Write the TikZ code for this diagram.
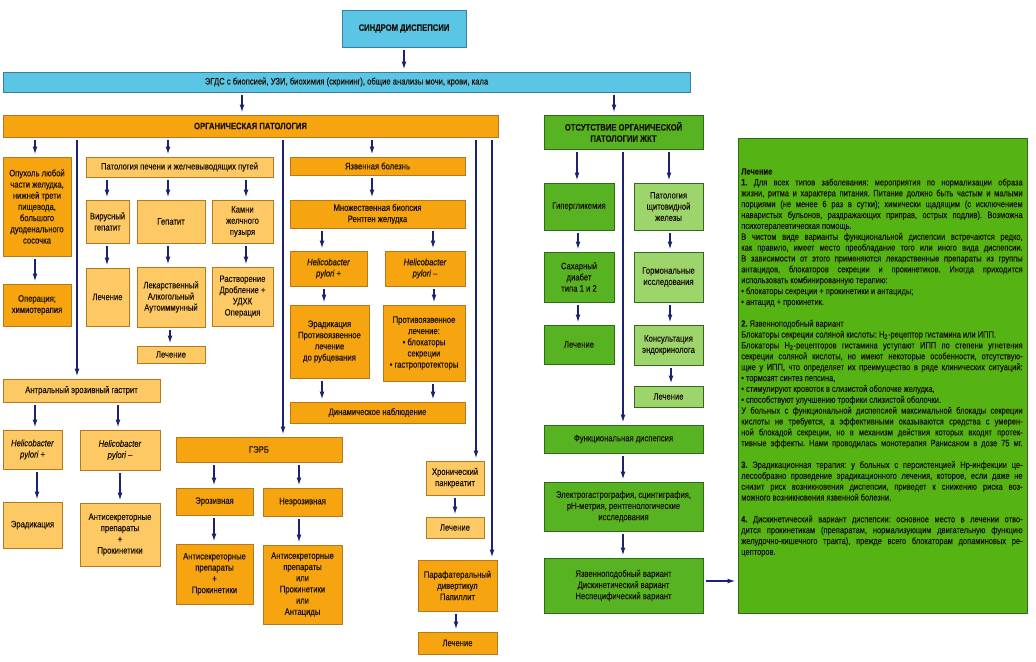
\documentclass[tikz,border=0pt]{standalone}
\usepackage{fontspec}
\setmainfont{Liberation Sans}[FakeStretch=0.82, FakeBold=0.35]
\usetikzlibrary{arrows.meta,calc}
\definecolor{blueF}{HTML}{5BC5E5}
\definecolor{blueD}{HTML}{3D7D9E}
\definecolor{orgD}{HTML}{F6A410}
\definecolor{orgL}{HTML}{FDC964}
\definecolor{orgB}{HTML}{B5781E}
\definecolor{grnD}{HTML}{58B322}
\definecolor{grnL}{HTML}{9ED46C}
\definecolor{grnB}{HTML}{2F6B1C}
\definecolor{grnT}{HTML}{55B414}
\definecolor{navy}{HTML}{1B2270}
\definecolor{ink}{HTML}{1A1208}
\tikzset{
  bxs/.style={draw, line width=0.5pt, align=center, inner sep=1pt, font=\fontsize{7}{8.4}\selectfont, text=ink},
  od/.style={bxs, fill=orgD, draw=orgB},
  ol/.style={bxs, fill=orgL, draw=orgB},
  bl/.style={bxs, fill=blueF, draw=blueD},
  gd/.style={bxs, fill=grnD, draw=grnB},
  gl/.style={bxs, fill=grnL, draw=grnB},
  gt/.style={bxs, fill=grnT, draw=grnB},
  arr/.style={draw=navy, line width=1.1pt, -{Latex[length=6pt,width=3.6pt]}, shorten <=2.2pt, shorten >=1.5pt}
}
\newcommand\bx[7]{\node[#6, minimum width={(#4-#2)*0.75pt}, minimum height={(#5-#3)*0.75pt}] (#1) at ({(#2+#4)/2},{(#3+#5)/2}) {#7};}
\newcommand\va[3]{\coordinate (vx) at (#3,0); \draw[arr] (#1.south -| vx) -- (#2.north -| vx);}
\newcommand\jl[1]{\makebox[\linewidth][s]{#1}\par}
\newcommand\lastl[1]{\makebox[\linewidth][l]{#1}\par}
\begin{document}
\begin{tikzpicture}[x=0.75pt, y=-0.75pt]
\fill[white] (0,0) rectangle (1036,661);
\useasboundingbox (0,0) rectangle (1036,661);
% top
\bx{title}{342}{10}{466}{47}{bl}{\textbf{СИНДРОМ ДИСПЕПСИИ}}
\bx{egds}{3}{72}{690}{92}{bl}{ЭГДС с биопсией, УЗИ, биохимия (скрининг), общие анализы мочи, крови, кала}
\bx{org}{3}{115}{498}{137}{od}{\textbf{ОРГАНИЧЕСКАЯ ПАТОЛОГИЯ}}
\bx{otsut}{544}{115}{703}{149}{gd}{\textbf{ОТСУТСТВИЕ ОРГАНИЧЕСКОЙ}\\\textbf{ПАТОЛОГИИ ЖКТ}}
% left column
\bx{opuh}{3}{157}{71}{256}{od}{Опухоль любой\\части желудка,\\нижней трети\\пищевода,\\большого\\дуоденального\\сосочка}
\bx{oper}{3}{284}{71}{326}{od}{Операция;\\химиотерапия}
% liver
\bx{pech}{86}{157}{273}{177}{ol}{Патология печени и желчевыводящих путей}
\bx{vir}{86}{200}{129}{243}{ol}{Вирусный\\гепатит}
\bx{gep}{137}{200}{205}{243}{ol}{Гепатит}
\bx{kamni}{212}{200}{273}{243}{ol}{Камни\\желчного\\пузыря}
\bx{lech1}{86}{268}{129}{326}{ol}{Лечение}
\bx{lek}{137}{267}{205}{327}{ol}{Лекарственный\\Алкогольный\\Аутоиммунный}
\bx{rastv}{212}{267}{273}{326}{ol}{Растворение\\Дробление +\\УДХК\\Операция}
\bx{lech2}{137}{346}{205}{363}{ol}{Лечение}
% antral gastritis
\bx{antr}{3}{379}{160}{402}{ol}{Антральный эрозивный гастрит}
\bx{hpl1}{3}{430}{62}{469}{ol}{\textit{Helicobacter}\\\textit{pylori +}}
\bx{hml1}{80}{430}{160}{470}{ol}{\textit{Helicobacter}\\\textit{pylori –}}
\bx{erad1}{3}{502}{62}{548}{ol}{Эрадикация}
\bx{anti1}{80}{503}{160}{566}{ol}{Антисекреторные\\препараты\\+\\Прокинетики}
% ulcer
\bx{yazvb}{290}{157}{465}{175}{od}{Язвенная болезнь}
\bx{mnozh}{290}{200}{465}{228}{od}{Множественная биопсия\\Рентген желудка}
\bx{hpp}{290}{251}{367}{286}{od}{\textit{Helicobacter}\\\textit{pylori +}}
\bx{hpm}{385}{251}{465}{286}{od}{\textit{Helicobacter}\\\textit{pylori –}}
\bx{erad2}{290}{305}{369}{378}{od}{Эрадикация\\Противоязвенное\\лечение\\до рубцевания}
\bx{protiv}{383}{305}{465}{381}{od}{Противоязвенное\\лечение:\\• блокаторы\\секреции\\• гастропротекторы}
\bx{dinam}{290}{402}{465}{423}{od}{Динамическое наблюдение}
% GERD
\bx{gerb}{176}{437}{342}{462}{od}{ГЭРБ}
\bx{eroz}{176}{488}{253}{515}{od}{Эрозивная}
\bx{neer}{263}{488}{342}{516}{od}{Неэрозивная}
\bx{anti2}{176}{544}{253}{604}{od}{Антисекреторные\\препараты\\+\\Прокинетики}
\bx{anti3}{263}{545}{342}{624}{od}{Антисекреторные\\препараты\\или\\Прокинетики\\или\\Антациды}
% pancreas etc
\bx{hron}{426}{461}{484}{495}{ol}{Хронический\\панкреатит}
\bx{lech3}{426}{517}{484}{538}{ol}{Лечение}
\bx{paraf}{418}{560}{497}{611}{od}{Парафатеральный\\дивертикул\\Папиллит}
\bx{lech4}{418}{632}{497}{654}{od}{Лечение}
% green side
\bx{giper}{544}{183}{614}{230}{gd}{Гипергликемия}
\bx{shch}{634}{183}{703}{230}{gl}{Патология\\щитовидной\\железы}
\bx{sahar}{544}{252}{614}{302}{gd}{Сахарный\\диабет\\типа 1 и 2}
\bx{gorm}{634}{252}{703}{302}{gl}{Гормональные\\исследования}
\bx{lech5}{544}{325}{614}{364}{gd}{Лечение}
\bx{kons}{634}{325}{703}{365}{gl}{Консультация\\эндокринолога}
\bx{lech6}{634}{386}{703}{407}{gl}{Лечение}
\bx{func}{544}{425}{703}{453}{gd}{Функциональная диспепсия}
\bx{elektro}{544}{482}{703}{531}{gd}{Электрогастрография, сцинтиграфия,\\pH-метрия, рентгенологические\\исследования}
\bx{var}{544}{558}{703}{613}{gd}{Язвенноподобный вариант\\Дискинетический вариант\\Неспецифический вариант}
\bx{txt}{738}{138}{1027}{613}{gt}{}
\node[anchor=north west, inner sep=0pt, text=ink, font=\fontsize{6.85}{8.15}\selectfont] (txtbody) at (741,168) {\begin{minipage}{211pt}\frenchspacing\setlength{\parindent}{0pt}\setlength{\parskip}{0pt}%
\lastl{\textbf{Лечение}}
\jl{\textbf{1.} Для всех типов заболевания: мероприятия по нормализации образа}
\jl{жизни, ритма и характера питания. Питание должно быть частым и малыми}
\jl{порциями (не менее 6 раз в сутки); химически щадящим (с исключением}
\jl{наваристых бульонов, раздражающих приправ, острых подлив). Возможна}
\lastl{психотерапевтическая помощь.}
\jl{В чистом виде варианты функциональной диспепсии встречаются редко,}
\jl{как правило, имеет место преобладание того или иного вида диспепсии.}
\jl{В зависимости от этого применяются лекарственные препараты из группы}
\jl{антацидов, блокаторов секреции и прокинетиков. Иногда приходится}
\lastl{использовать комбинированную терапию:}
\lastl{• блокаторы секреции + прокинетики и антациды;}
\lastl{• антацид + прокинетик.}
\lastl{\strut}
\lastl{\textbf{2.} Язвенноподобный вариант}
\lastl{Блокаторы секреции соляной кислоты: H\textsubscript{2}-рецептор гистамина или ИПП.}
\jl{Блокаторы H\textsubscript{2}-рецепторов гистамина уступают ИПП по степени угнетения}
\jl{секреции соляной кислоты, но имеют некоторые особенности, отсутствую-}
\jl{щие у ИПП, что определяет их преимущество в ряде клинических ситуаций:}
\lastl{• тормозят синтез пепсина,}
\lastl{• стимулируют кровоток в слизистой оболочке желудка,}
\lastl{• способствуют улучшению трофики слизистой оболочки.}
\jl{У больных с функциональной диспепсией максимальной блокады секреции}
\jl{кислоты не требуется, а эффективными оказываются средства с умерен-}
\jl{ной блокадой секреции, но в механизм действия которых входят протек-}
\jl{тивные эффекты. Нами проводилась монотерапия Ранисаном в дозе 75 мг.}
\lastl{\strut}
\jl{\textbf{3.} Эрадикационная терапия: у больных с персистенцией Hp-инфекции це-}
\jl{лесообразно проведение эрадикационного лечения, которое, если даже не}
\jl{снизит риск возникновения диспепсии, приведет к снижению риска воз-}
\lastl{можного возникновения язвенной болезни.}
\lastl{\strut}
\jl{\textbf{4.} Дискинетический вариант диспепсии: основное место в лечении отво-}
\jl{дится прокинетикам (препаратам, нормализующим двигательную функцию}
\jl{желудочно-кишечного тракта), прежде всего блокаторам допаминовых ре-}
\lastl{цепторов.}
\end{minipage}};
% arrows
\draw[arr] (title.south) -- (title.south |- egds.north);
\va{egds}{org}{242}
\va{egds}{otsut}{614}
\va{org}{opuh}{35}
\va{org}{antr}{77}
\va{org}{pech}{168}
\va{org}{gerb}{283}
\va{org}{yazvb}{372}
\va{org}{hron}{476}
\va{org}{paraf}{492}
\va{opuh}{oper}{35}
\va{pech}{vir}{107}
\va{pech}{gep}{168}
\va{pech}{kamni}{246}
\va{vir}{lech1}{107}
\va{gep}{lek}{168}
\va{kamni}{rastv}{246}
\va{lek}{lech2}{170}
\va{yazvb}{mnozh}{372}
\va{mnozh}{hpp}{322}
\va{mnozh}{hpm}{433}
\va{hpp}{erad2}{324}
\va{hpm}{protiv}{434}
\va{erad2}{dinam}{322}
\va{protiv}{dinam}{433}
\va{antr}{hpl1}{35}
\va{antr}{hml1}{118}
\va{hpl1}{erad1}{37}
\va{hml1}{anti1}{120}
\va{gerb}{eroz}{214}
\va{gerb}{neer}{299}
\va{eroz}{anti2}{214}
\va{neer}{anti3}{299}
\va{hron}{lech3}{455}
\va{paraf}{lech4}{456}
\va{otsut}{giper}{577}
\va{otsut}{shch}{669}
\va{otsut}{func}{623}
\va{giper}{sahar}{578}
\va{shch}{gorm}{670}
\va{sahar}{lech5}{578}
\va{gorm}{kons}{670}
\va{kons}{lech6}{671}
\va{func}{elektro}{623}
\va{elektro}{var}{623}
\coordinate (hy) at (0,581);
\draw[arr] (var.east |- hy) -- (txt.west |- hy);
\end{tikzpicture}
\end{document}
